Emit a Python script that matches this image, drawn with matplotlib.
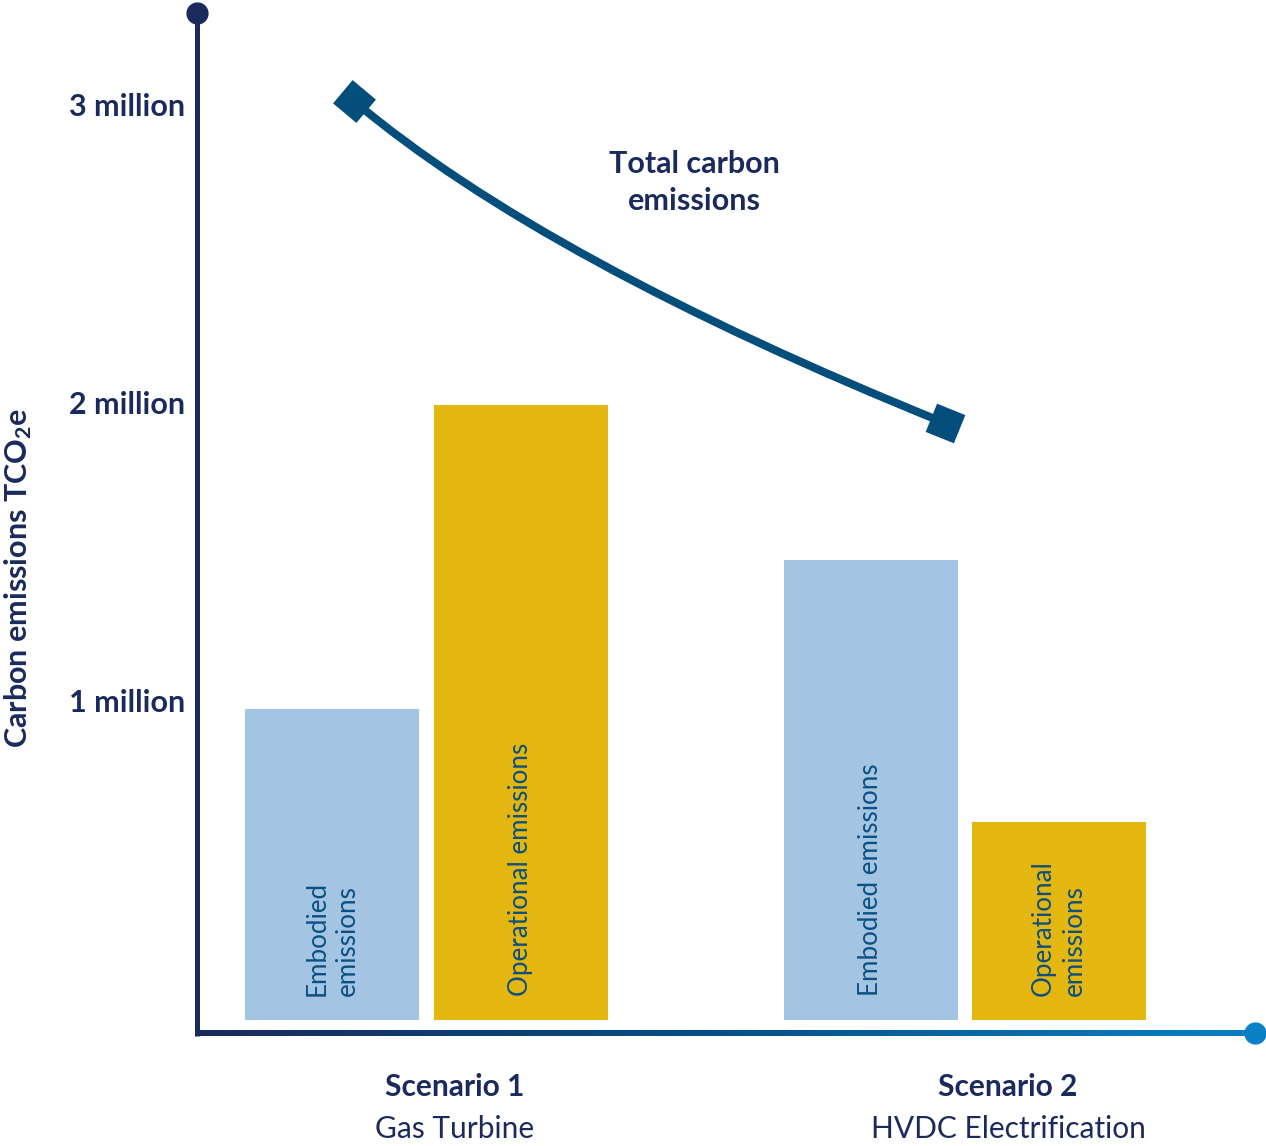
import numpy as np
import matplotlib
matplotlib.use("Agg")
import matplotlib.pyplot as plt
from matplotlib.path import Path
from matplotlib.patches import PathPatch
from matplotlib.colors import LinearSegmentedColormap

plt.rcParams['font.family'] = ['Lato', 'DejaVu Sans']
plt.rcParams['mathtext.default'] = 'regular'

# ---- data (millions of tCO2e) ----
scenarios = ["Scenario 1", "Scenario 2"]
subtitles = ["Gas Turbine", "HVDC Electrification"]
embodied = [0.98, 1.48]
operational = [2.0, 0.6]
totals = [3.02, 1.94]
tick_values = [1, 2, 3]
tick_labels = ["1 million", "2 million", "3 million"]
embodied_labels = ["Embodied\nemissions", "Embodied emissions"]
operational_labels = ["Operational emissions", "Operational\nemissions"]

NAVY = "#1b2a5c"
LINE = "#034e7b"
BLUE = "#a3c5e3"
GOLD = "#e3b610"
BARTXT = "#0c4f80"

fig = plt.figure(figsize=(12.66, 11.46), dpi=100)
ax = fig.add_axes([0, 0, 1, 1])
XLIM = (-0.792, 1.559)
YLIM = (-0.4866, 3.359)
ax.axis('off')

x = np.arange(len(scenarios))
W = 0.323
OFF = 0.175
BASE = -0.064

ax.bar(x - OFF, np.array(embodied) - BASE, W, bottom=BASE, color=BLUE, zorder=2)
ax.bar(x + OFF, np.array(operational) - BASE, W, bottom=BASE, color=GOLD, zorder=2)

for i in range(len(x)):
    ax.text(x[i] - OFF, 0.017, embodied_labels[i], rotation=90, ha='center', va='bottom',
            multialignment='left', color=BARTXT, fontsize=18.7, linespacing=1.3, zorder=3)
    ax.text(x[i] + OFF, 0.017, operational_labels[i], rotation=90, ha='center', va='bottom',
            multialignment='left', color=BARTXT, fontsize=18.7, linespacing=1.3, zorder=3)

# axes lines
YAX_X = -0.4262
XAX_Y = -0.1074
TOP = 3.315
RIGHT = 1.5385
HALF = 0.0084
ax.plot([YAX_X, YAX_X], [XAX_Y - HALF, TOP], color=NAVY, lw=3.6, solid_capstyle='butt', zorder=4)
ax.plot([YAX_X], [TOP], 'o', color=NAVY, ms=15, zorder=4)
cmap = LinearSegmentedColormap.from_list('ax', [NAVY, "#03508a", "#0a80c6"])
grad = np.linspace(0, 1, 512).reshape(1, -1)
ax.imshow(grad, cmap=cmap, extent=[YAX_X - 0.0046, RIGHT, XAX_Y - HALF, XAX_Y + HALF],
          aspect='auto', interpolation='bilinear', zorder=4)
ax.plot([RIGHT], [XAX_Y], 'o', color="#0a80c6", ms=15, zorder=4)
ax.set_xlim(*XLIM)
ax.set_ylim(*YLIM)

# tick labels
for v, lab in zip(tick_values, tick_labels):
    ax.text(YAX_X - 0.022, v, lab, ha='right', va='center', fontsize=22,
            fontweight='bold', color=NAVY)

ax.text(-0.758, 1.42, "Carbon emissions TCO$_2$e", rotation=90, ha='center', va='center',
        fontsize=22, fontweight='bold', color=NAVY)

# scenario labels
label_off = [0.053, 0.08]
for i in range(len(x)):
    ax.text(x[i] + label_off[i], -0.287, scenarios[i], ha='center', va='center', fontsize=21.5,
            fontweight='bold', color=NAVY)
    ax.text(x[i] + label_off[i], -0.43, subtitles[i], ha='center', va='center', fontsize=21.5,
            color=NAVY)

# total line (curved connector)
fig.canvas.draw()
tx = np.array([x[0] - 0.135, x[1] - 0.038])
p0 = ax.transData.transform((tx[0], totals[0]))
p2 = ax.transData.transform((tx[1], totals[1]))
a0 = np.deg2rad(-40)
a2 = np.deg2rad(-22)
d0 = np.array([np.cos(a0), np.sin(a0)])
d2 = np.array([np.cos(a2), np.sin(a2)])
A = np.column_stack([d0, d2])
t, s = np.linalg.solve(A, p2 - p0)
ctrl = p0 + t * d0
ctrl_data = ax.transData.inverted().transform(ctrl)
path = Path([(tx[0], totals[0]), tuple(ctrl_data), (tx[1], totals[1])],
            [Path.MOVETO, Path.CURVE3, Path.CURVE3])
ax.add_patch(PathPatch(path, fill=False, edgecolor=LINE, lw=5.8, zorder=5))
ax.plot([tx[0]], [totals[0]], marker=(4, 0, 5), ms=31, color=LINE, mew=0, zorder=6)
ax.plot([tx[1]], [totals[1]], marker=(4, 0, 23), ms=31, color=LINE, mew=0, zorder=6)

ax.text(0.498, 2.747, "Total carbon\nemissions", ha='center', va='center', fontsize=22,
        fontweight='bold', color=NAVY, linespacing=1.42)

fig.savefig("out.png", dpi=100)
